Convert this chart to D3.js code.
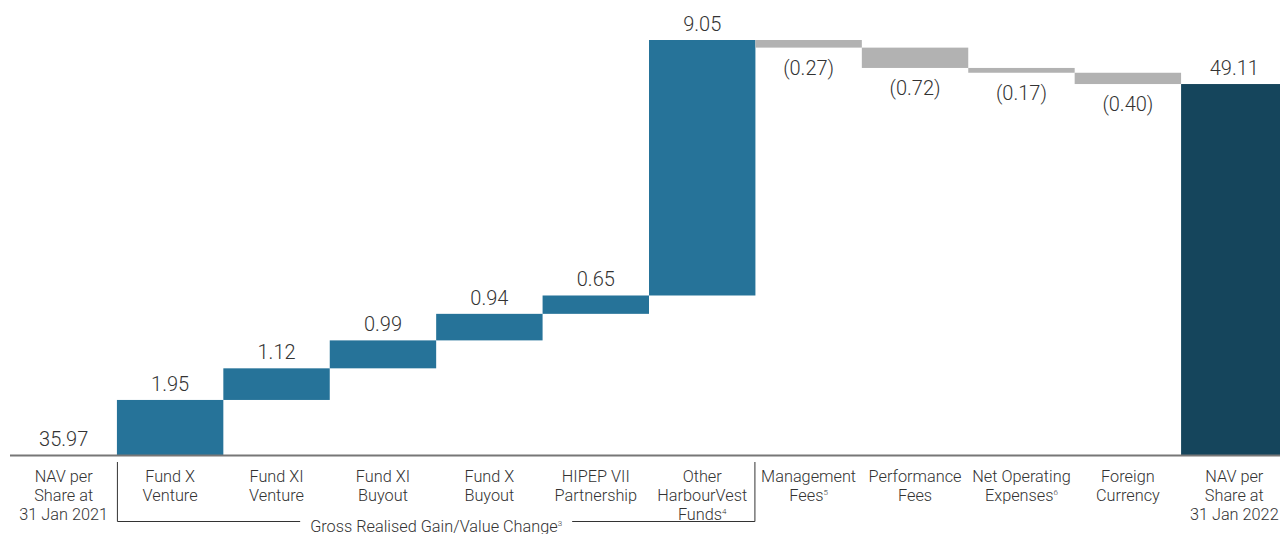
<!DOCTYPE html>
<html>
<head>
<meta charset="utf-8">
<script src="https://cdn.jsdelivr.net/npm/d3@7"></script>
<style>
  body { margin: 0; background: #fff; }
  text { font-family: Roboto, "Noto Sans", sans-serif; font-weight: 300; fill: #333; }
</style>
</head>
<body>
<div id="chart"></div>
<script>
// chart data
var categories = [
  ["NAV per", "Share at", "31 Jan 2021"],
  ["Fund X", "Venture"],
  ["Fund XI", "Venture"],
  ["Fund XI", "Buyout"],
  ["Fund X", "Buyout"],
  ["HIPEP VII", "Partnership"],
  ["Other", "HarbourVest", "Funds|4"],
  ["Management", "Fees|5"],
  ["Performance", "Fees"],
  ["Net Operating", "Expenses|6"],
  ["Foreign", "Currency"],
  ["NAV per", "Share at", "31 Jan 2022"]
];
var values = [35.97, 1.95, 1.12, 0.99, 0.94, 0.65, 9.05, -0.27, -0.72, -0.17, -0.40, 49.11];
var valueLabels = ["35.97", "1.95", "1.12", "0.99", "0.94", "0.65", "9.05", "(0.27)", "(0.72)", "(0.17)", "(0.40)", "49.11"];
var kinds = ["total", "gain", "gain", "gain", "gain", "gain", "gain", "cost", "cost", "cost", "cost", "total"];
var groupLabel = "Gross Realised Gain/Value Change";
var groupNote = "3";

var svgWidth = 1280;
var svgHeight = 534;

var colors = { gain: "#267399", cost: "#b2b2b2", total: "#15455c" };

// running totals for the waterfall
var rows = [];
var running = 0;
values.forEach(function(v, i) {
  var start, end;
  if (kinds[i] === "total") {
    start = values[0];
    end = v;
    running = v;
  } else {
    start = running;
    end = running + v;
    running = end;
  }
  rows.push({ i: i, start: start, end: end, kind: kinds[i], label: valueLabels[i], neg: v < 0 });
});

var svg = d3.select("#chart")
  .append("svg")
  .attr("width", svgWidth)
  .attr("height", svgHeight);

var xScale = d3.scaleBand()
  .domain(d3.range(categories.length))
  .range([10.5, 1287.5])
  .padding(0);

var yScale = d3.scaleLinear()
  .domain([values[0], d3.max(rows, d => Math.max(d.start, d.end))])
  .range([455, 40]);

// bars
svg.selectAll("rect.bar")
  .data(rows)
  .enter()
  .append("rect")
  .attr("class", "bar")
  .attr("x", d => xScale(d.i))
  .attr("width", xScale.bandwidth())
  .attr("y", d => yScale(Math.max(d.start, d.end)))
  .attr("height", d => Math.abs(yScale(d.start) - yScale(d.end)))
  .attr("fill", d => colors[d.kind]);

// axis line
svg.append("line")
  .attr("x1", 10).attr("x2", svgWidth)
  .attr("y1", yScale(values[0]) + 0.5).attr("y2", yScale(values[0]) + 0.5)
  .attr("stroke", "#777")
  .attr("stroke-width", 2);

// value labels
svg.selectAll("text.val")
  .data(rows)
  .enter()
  .append("text")
  .attr("class", "val")
  .attr("x", d => xScale(d.i) + xScale.bandwidth() / 2)
  .attr("y", d => d.neg ? yScale(d.end) + 27 : yScale(Math.max(d.start, d.end)) - 9)
  .attr("text-anchor", "middle")
  .style("font-size", "20px")
  .text(d => d.label);

// category labels (| marks a superscript note)
var catText = svg.selectAll("text.cat")
  .data(categories)
  .enter()
  .append("text")
  .attr("class", "cat")
  .attr("text-anchor", "middle")
  .style("font-size", "16.3px");

catText.each(function(lines, i) {
  var t = d3.select(this);
  var cx = xScale(i) + xScale.bandwidth() / 2;
  lines.forEach(function(line, j) {
    var parts = line.split("|");
    var ts = t.append("tspan")
      .attr("x", cx)
      .attr("y", 482 + j * 19)
      .text(parts[0]);
    if (parts[1]) {
      ts.append("tspan")
        .attr("dy", -6)
        .style("font-size", "8px")
        .text(parts[1]);
    }
  });
});

// bracket under the gains group
var bx1 = xScale(1);
var bx2 = xScale(6) + xScale.bandwidth();
var bracketY = 521;
var gText = svg.append("text")
  .attr("x", (bx1 + bx2) / 2)
  .attr("y", 532)
  .attr("text-anchor", "middle")
  .style("font-size", "16.3px")
  .text(groupLabel);
gText.append("tspan")
  .attr("dy", -6)
  .style("font-size", "8px")
  .text(groupNote);

var box = gText.node().getBBox();
svg.append("path")
  .attr("d", `M${bx1 + 0.5},462 V${bracketY + 0.5} H${box.x - 10}`)
  .attr("fill", "none")
  .attr("stroke", "#333")
  .attr("stroke-width", 1);
svg.append("path")
  .attr("d", `M${box.x + box.width + 10},${bracketY + 0.5} H${bx2 - 0.5} V462`)
  .attr("fill", "none")
  .attr("stroke", "#333")
  .attr("stroke-width", 1);
</script>
</body>
</html>
